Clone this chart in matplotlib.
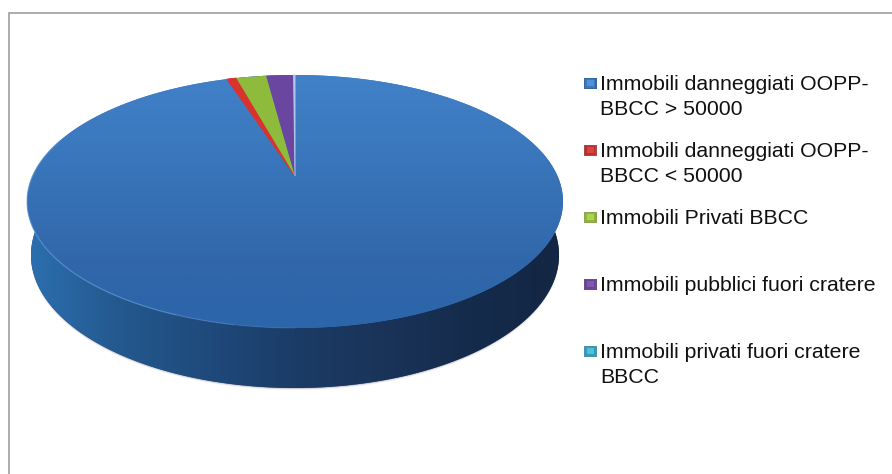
import numpy as np
import matplotlib
matplotlib.use("Agg")
import matplotlib.pyplot as plt
from matplotlib.patches import Rectangle, Polygon

plt.rcParams['font.family'] = ['Liberation Sans', 'DejaVu Sans']

labels = ["Immobili danneggiati OOPP-\nBBCC > 50000",
          "Immobili danneggiati OOPP-\nBBCC < 50000",
          "Immobili Privati BBCC",
          "Immobili pubblici fuori cratere",
          "Immobili privati fuori cratere\nBBCC"]
values = [95.0, 0.7, 2.2, 2.0, 0.1]
colors = ["#3b78bf", "#d9332f", "#8fbb3c", "#6b46a0", "#b0c8e8"]

W, H = 892, 474
fig = plt.figure(figsize=(W/100, H/100), dpi=100)
ax = fig.add_axes([0, 0, 1, 1])
ax.set_xlim(0, W); ax.set_ylim(H, 0); ax.axis("off")

# perspective view of the pie disc
CX, APEX, TOP, BOT, HALF = 295.0, 176.0, 75.0, 328.0, 268.0
LOW_CY, LOW_B, LOW_A = 255.0, 133.0, 264.0
k = (2*APEX - TOP - BOT) / (TOP - BOT)
p = TOP*(1+k) - APEX
A = HALF*np.sqrt(1-k*k)

def project(angle):
    u = np.sin(angle); v = np.cos(angle)
    w = 1 + k*v
    return CX + A*u/w, (APEX + p*v)/w

full_x, full_y = project(np.linspace(0, 2*np.pi, 720))
t = np.linspace(0, 2*np.pi, 720)
low_x, low_y = CX + LOW_A*np.sin(t), LOW_CY + LOW_B*np.cos(t)

def gradient(stops, x0, x1, y0, y1, horizontal, clip, z):
    rgb = np.array([matplotlib.colors.to_rgb(c) for c in stops])
    pos = np.linspace(0, 1, len(rgb))
    s = np.linspace(0, 1, 300)
    g = np.stack([np.interp(s, pos, rgb[:, i]) for i in range(3)], axis=1)
    img = g[None, :, :] if horizontal else g[:, None, :]
    im = ax.imshow(img, extent=(x0, x1, y1, y0), aspect="auto", zorder=z, interpolation="bilinear")
    im.set_clip_path(clip)

# soft shadow hugging the lower wall
for off, al in [(2.0, .10), (1.0, .22)]:
    ax.fill(low_x, low_y + off, color="#6a5a78", alpha=al, lw=0, zorder=1)

# side wall
low = Polygon(np.c_[low_x, low_y], closed=True, fc="#1e4a80", ec="none", zorder=2)
ax.add_patch(low)
gradient(["#2c6fb0", "#24598f", "#1f4a7c", "#1b3c66", "#1a3358", "#152b4c", "#132643"],
         CX-HALF, CX+HALF, TOP, 392, True, low, 2)

# top face
disc = Polygon(np.c_[full_x, full_y], closed=True, fc=colors[0], ec="none", zorder=3)
ax.add_patch(disc)
gradient(["#4181c8", "#3c79bf", "#3670b4", "#3167aa", "#2c65aa"], CX-HALF, CX+HALF, TOP, BOT, False, disc, 3)

angles = np.cumsum(values)/sum(values)*2*np.pi
start = 0.0
for val, col, end in zip(values, colors, angles):
    if val < 50:
        rx, ry = project(np.linspace(start, end, 40))
        ax.fill(np.r_[CX, rx], np.r_[APEX, ry], color=col, ec=col, lw=0.7 if val < 1 else 0, zorder=4)
    start = end

# light rim along the front-left edge, fading towards the front
for a0, a1, al in [(1.00, 1.06, .2), (1.06, 1.12, .4), (1.12, 1.6, .6)]:
    rx, ry = project(np.linspace(np.pi*a0, np.pi*a1, 100))
    ax.plot(rx, ry, color="#6aa0d8", lw=0.9, alpha=al, zorder=5, solid_capstyle="butt")

# legend
ly = [83, 150, 217, 284, 351]
lc = [("#34689f", "#3d78ba", "#4f92da"), ("#a84a48", "#b8302e", "#dc4340"),
      ("#8aa552", "#8fb53a", "#add24e"), ("#6a5088", "#6a4496", "#8257b0"),
      ("#4a94aa", "#2f9cbc", "#52bedc")]
for lab, y, (c0, c1, c2) in zip(labels, ly, lc):
    ax.add_patch(Rectangle((584, y-5.5), 12.5, 11.5, fc=c0, ec="none", zorder=6))
    ax.add_patch(Rectangle((585.2, y-4.5), 10, 9.5, fc=c1, ec="none", zorder=6.5))
    ax.add_patch(Rectangle((587, y-3), 6.5, 6, fc=c2, ec="none", zorder=7))
    for i, line in enumerate(lab.split("\n")):
        ax.text(600, y+7+25*i, line, fontsize=15.35, color="#111111", va="baseline", ha="left", zorder=8)

# frame: only the top and left rules are visible
ax.plot([8.5, 8.5, W], [H, 12.5, 12.5], color="#a6a6a6", lw=1.3, solid_joinstyle="miter", zorder=9)

ax.set_xlim(0, W); ax.set_ylim(H, 0)
fig.savefig("out.png", dpi=100)
